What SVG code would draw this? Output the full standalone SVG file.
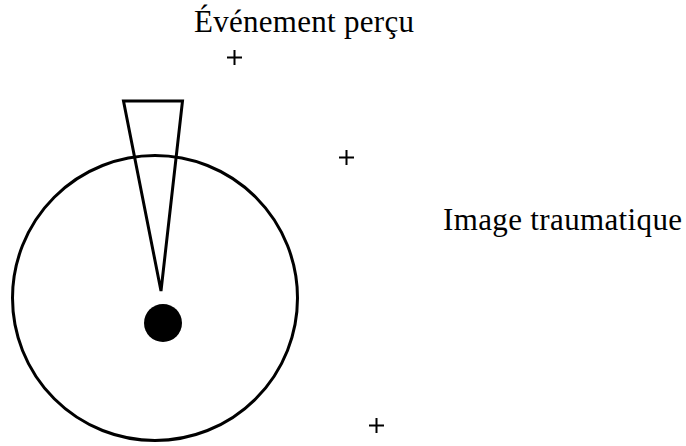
<svg xmlns="http://www.w3.org/2000/svg" width="686" height="446" viewBox="0 0 686 446">
<style>
.ln{fill:none;stroke:#000;stroke-width:3}
.pl{stroke:#000;stroke-width:2;fill:none}
.t{font-family:"Liberation Serif","Times New Roman",serif;font-size:31px;fill:#000}
</style>
<rect width="686" height="446" fill="#fff"/>
<g id="circle"><circle class="ln" cx="155" cy="298" r="142.5"/></g>
<g id="cone"><polygon class="ln" points="123.5,101 182.5,101 161,291" stroke-linejoin="miter"/></g>
<g id="dot"><circle cx="163" cy="323" r="19" fill="#000"/></g>
<g id="plus1"><path class="pl" d="M227 57.5h15M234.5 50v15"/></g>
<g id="plus2"><path class="pl" d="M339 157.5h15M346.5 150v15"/></g>
<g id="plus3"><path class="pl" d="M369 425.5h15M376.5 418v15"/></g>
<g id="label1"><text class="t" x="194" y="32" textLength="220">Événement perçu</text></g>
<g id="label2"><text class="t" x="443" y="230" textLength="239">Image traumatique</text></g>
</svg>
